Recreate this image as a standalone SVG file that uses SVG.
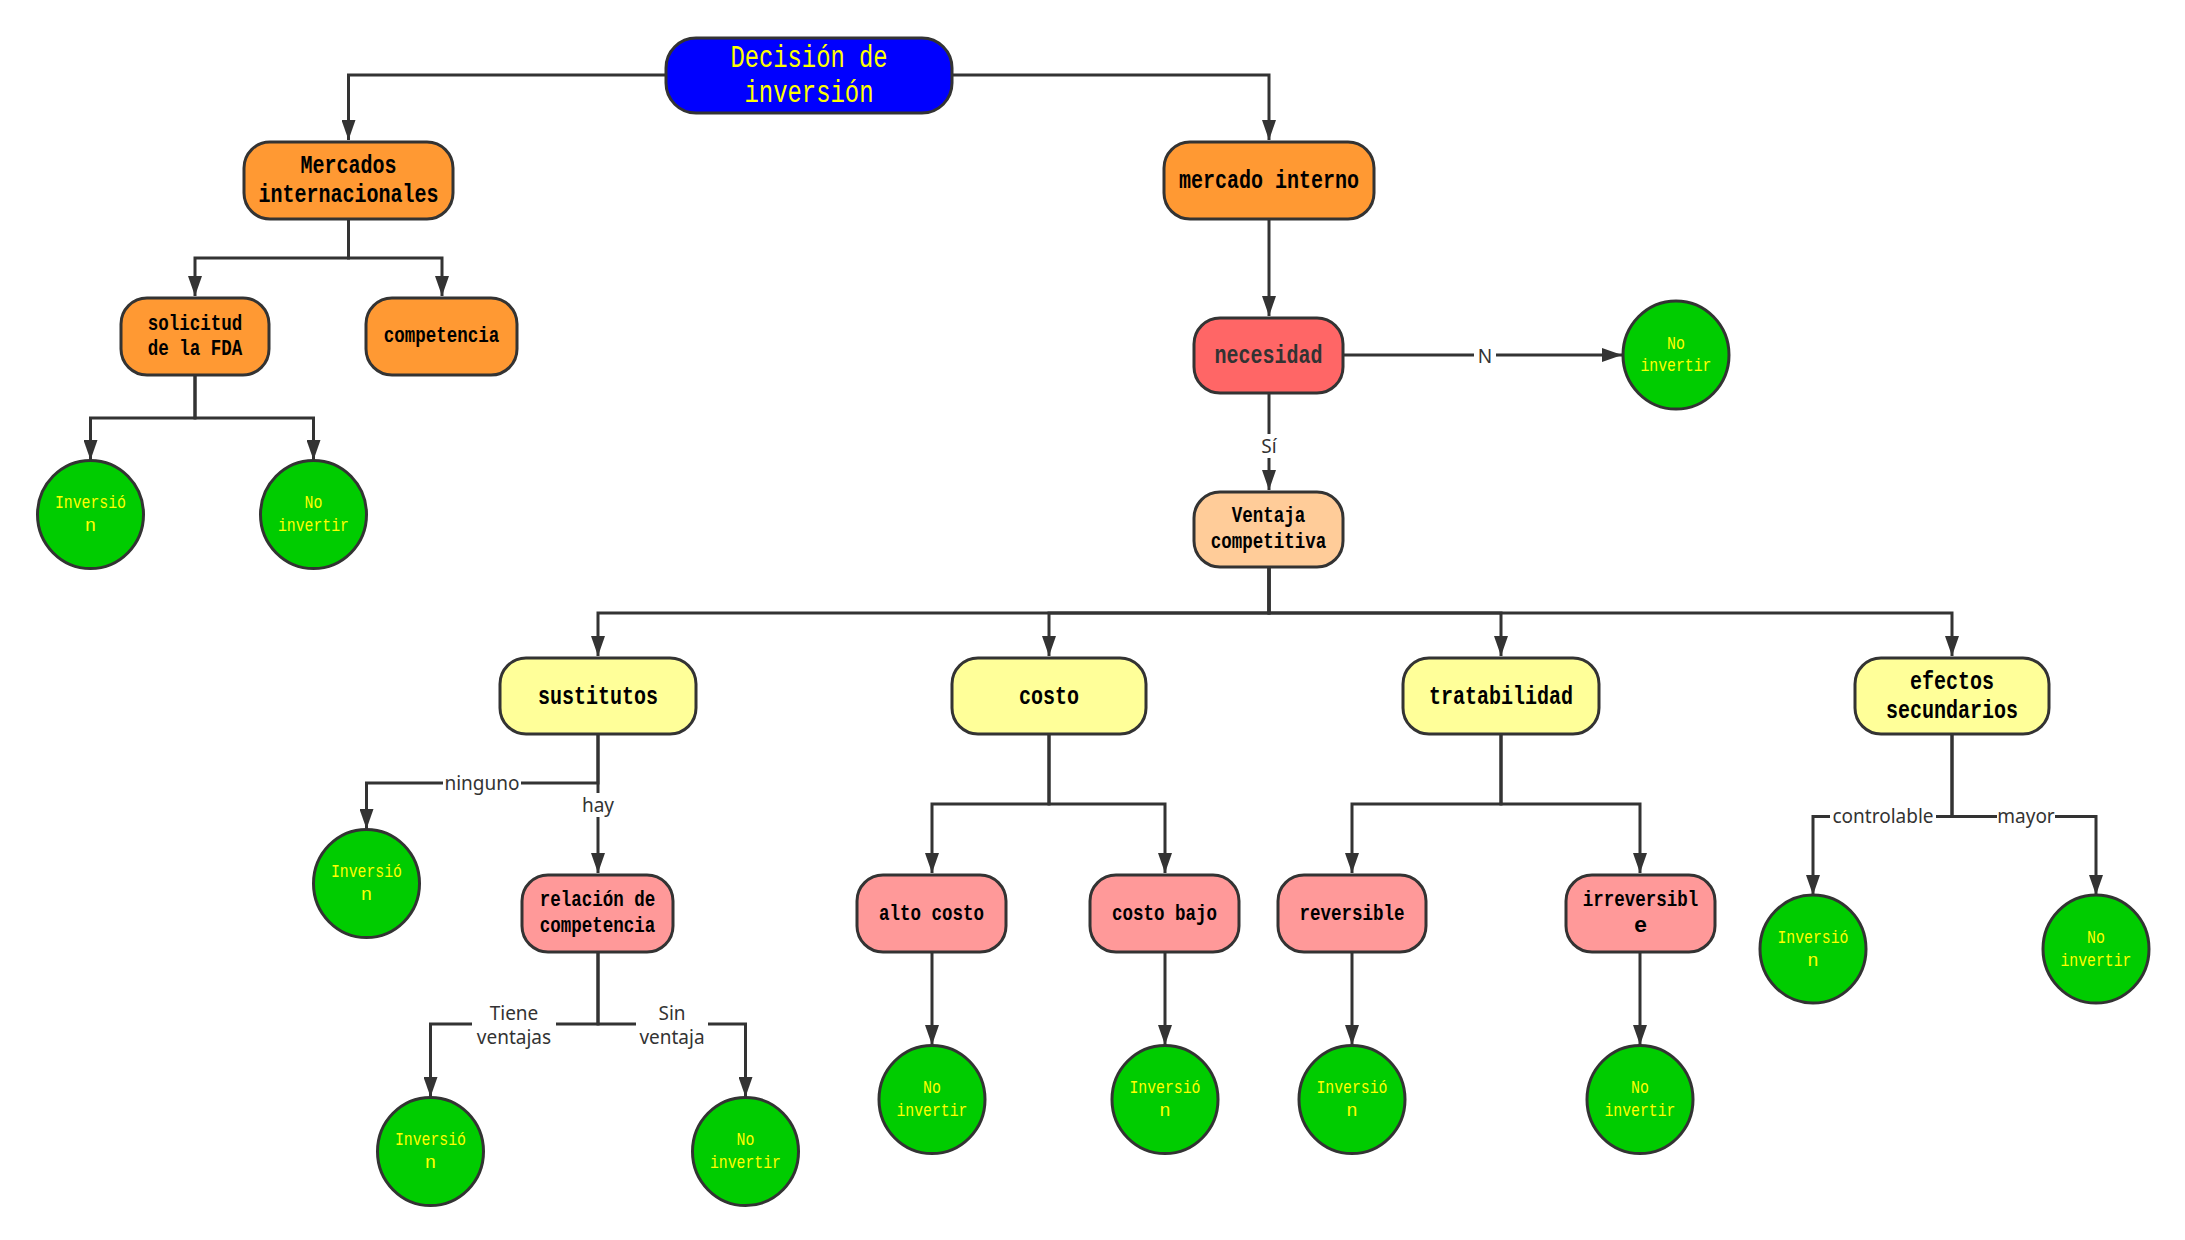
<svg xmlns="http://www.w3.org/2000/svg" width="2185" height="1240" viewBox="0 0 2185 1240">
<style>
.n{stroke:#333;stroke-width:3}
.t{font-family:"Liberation Mono",monospace;text-anchor:middle;dominant-baseline:central}
.root{font-size:31px;fill:#FFFF00}
.a{font-size:26px;font-weight:bold;fill:#000}
.b{font-size:22px;font-weight:bold;fill:#000}
.c{font-size:19px;fill:#FFFF00}
.orange{fill:#FF9933}
.pink{fill:#FF9999}
.yellow{fill:#FFFF99}
.green{fill:#00CC00}
.e{fill:none;stroke:#333;stroke-width:3;marker-end:url(#arr)}
.lbl{font-family:"Noto Sans","Liberation Sans",sans-serif;font-size:19px;fill:#333;text-anchor:middle;dominant-baseline:central}
</style>
<defs>
<marker id="arr" viewBox="0 0 20 14" refX="20" refY="7" markerWidth="20" markerHeight="14" orient="auto" markerUnits="userSpaceOnUse">
<path d="M0,0 L20,7 L0,14 Z" fill="#333"/>
</marker>
</defs>
<rect width="2185" height="1240" fill="#fff"/>
<g id="connectors">
<path class="e" d="M666,75 H348.5 V140"/>
<path class="e" d="M952,75 H1269 V140"/>
<path class="e" d="M348.5,219 V258 H195 V296"/>
<path class="e" d="M348.5,219 V258 H442 V296"/>
<path class="e" d="M195,375 V418 H90.5 V460"/>
<path class="e" d="M195,375 V418 H313.5 V460"/>
<path class="e" d="M1269,219 V316"/>
<path class="e" d="M1343,355 H1622"/>
<path class="e" d="M1269,393 V490"/>
<path class="e" d="M1269,567 V613 H598 V656"/>
<path class="e" d="M1269,567 V613 H1049 V656"/>
<path class="e" d="M1269,567 V613 H1501 V656"/>
<path class="e" d="M1269,567 V613 H1952 V656"/>
<path class="e" d="M598,734 V783 H366.5 V829"/>
<path class="e" d="M598,734 V873"/>
<path class="e" d="M598,952 V1024 H430.5 V1097"/>
<path class="e" d="M598,952 V1024 H745.5 V1097"/>
<path class="e" d="M1049,734 V804 H932 V873"/>
<path class="e" d="M1049,734 V804 H1165 V873"/>
<path class="e" d="M932,952 V1045"/>
<path class="e" d="M1165,952 V1045"/>
<path class="e" d="M1501,734 V804 H1352 V873"/>
<path class="e" d="M1501,734 V804 H1640 V873"/>
<path class="e" d="M1352,952 V1045"/>
<path class="e" d="M1640,952 V1045"/>
<path class="e" d="M1952,734 V816.5 H1813 V895"/>
<path class="e" d="M1952,734 V816.5 H2096 V895"/>
<g id="labels">
<rect x="1474" y="343" width="22" height="24" fill="#fff"/>
<text class="lbl" x="1485" y="356">N</text>
<rect x="1257" y="434" width="24" height="24" fill="#fff"/>
<text class="lbl" x="1269" y="446">Sí</text>
<rect x="443" y="771" width="78" height="24" fill="#fff"/>
<text class="lbl" x="482" y="783">ninguno</text>
<rect x="580" y="793" width="36" height="24" fill="#fff"/>
<text class="lbl" x="598" y="805">hay</text>
<rect x="472" y="1001" width="84" height="48" fill="#fff"/>
<text class="lbl" x="514" y="1013">Tiene</text>
<text class="lbl" x="514" y="1037">ventajas</text>
<rect x="636" y="1001" width="72" height="48" fill="#fff"/>
<text class="lbl" x="672" y="1013">Sin</text>
<text class="lbl" x="672" y="1037">ventaja</text>
<rect x="1830" y="804" width="106" height="24" fill="#fff"/>
<text class="lbl" x="1883" y="816">controlable</text>
<rect x="1997" y="804" width="58" height="24" fill="#fff"/>
<text class="lbl" x="2026" y="816">mayor</text>
</g>
</g>
<g id="root">
<rect class="n" x="666" y="38" width="286" height="75" rx="30" fill="#0000FF"/>
<text class="t root" x="809" y="58" textLength="157" lengthAdjust="spacingAndGlyphs">Decisión de</text>
<text class="t root" x="809" y="93" textLength="129" lengthAdjust="spacingAndGlyphs">inversión</text>
</g>
<g id="mercados">
<rect class="n orange" x="244" y="142" width="209" height="77" rx="26"/>
<text class="t a" x="348.5" y="166" textLength="96" lengthAdjust="spacingAndGlyphs">Mercados</text>
<text class="t a" x="348.5" y="195" textLength="180" lengthAdjust="spacingAndGlyphs">internacionales</text>
</g>
<g id="mercado-interno">
<rect class="n orange" x="1164" y="142" width="210" height="77" rx="26"/>
<text class="t a" x="1269" y="181" textLength="180" lengthAdjust="spacingAndGlyphs">mercado interno</text>
</g>
<g id="solicitud">
<rect class="n orange" x="121" y="298" width="148" height="77" rx="26"/>
<text class="t b" x="195" y="324" textLength="94.5" lengthAdjust="spacingAndGlyphs">solicitud</text>
<text class="t b" x="195" y="349" textLength="94.5" lengthAdjust="spacingAndGlyphs">de la FDA</text>
</g>
<g id="competencia">
<rect class="n orange" x="366" y="298" width="151" height="77" rx="26"/>
<text class="t b" x="441.5" y="336.5" textLength="115.5" lengthAdjust="spacingAndGlyphs">competencia</text>
</g>
<g id="c-fda-inv">
<ellipse class="n green" cx="90.5" cy="514.5" rx="53" ry="54"/>
<text class="t c" x="90.5" y="503" textLength="71" lengthAdjust="spacingAndGlyphs">Inversió</text>
<text class="t c" x="90.5" y="526">n</text>
</g>
<g id="c-fda-no">
<ellipse class="n green" cx="313.5" cy="514.5" rx="53" ry="54"/>
<text class="t c" x="313.5" y="503" textLength="17.8" lengthAdjust="spacingAndGlyphs">No</text>
<text class="t c" x="313.5" y="526" textLength="71" lengthAdjust="spacingAndGlyphs">invertir</text>
</g>
<g id="necesidad">
<rect class="n" x="1194" y="318" width="149" height="75" rx="26" fill="#FF6666"/>
<text class="t a" x="1268.5" y="356" textLength="108" lengthAdjust="spacingAndGlyphs" style="fill:#333">necesidad</text>
</g>
<g id="c-nec-no">
<ellipse class="n green" cx="1676" cy="355" rx="53" ry="54"/>
<text class="t c" x="1676" y="344" textLength="17.8" lengthAdjust="spacingAndGlyphs">No</text>
<text class="t c" x="1676" y="366" textLength="71" lengthAdjust="spacingAndGlyphs">invertir</text>
</g>
<g id="ventaja">
<rect class="n" x="1194" y="492" width="149" height="75" rx="26" fill="#FFCC99"/>
<text class="t b" x="1268.5" y="516" textLength="73.5" lengthAdjust="spacingAndGlyphs">Ventaja</text>
<text class="t b" x="1268.5" y="542" textLength="115.5" lengthAdjust="spacingAndGlyphs">competitiva</text>
</g>
<g id="sustitutos">
<rect class="n yellow" x="500" y="658" width="196" height="76" rx="26"/>
<text class="t a" x="598" y="697" textLength="120" lengthAdjust="spacingAndGlyphs">sustitutos</text>
</g>
<g id="costo">
<rect class="n yellow" x="952" y="658" width="194" height="76" rx="26"/>
<text class="t a" x="1049" y="697" textLength="60" lengthAdjust="spacingAndGlyphs">costo</text>
</g>
<g id="tratabilidad">
<rect class="n yellow" x="1403" y="658" width="196" height="76" rx="26"/>
<text class="t a" x="1501" y="697" textLength="144" lengthAdjust="spacingAndGlyphs">tratabilidad</text>
</g>
<g id="efectos">
<rect class="n yellow" x="1855" y="658" width="194" height="76" rx="26"/>
<text class="t a" x="1952" y="682" textLength="84" lengthAdjust="spacingAndGlyphs">efectos</text>
<text class="t a" x="1952" y="711" textLength="132" lengthAdjust="spacingAndGlyphs">secundarios</text>
</g>
<g id="c-sus-inv">
<ellipse class="n green" cx="366.5" cy="883.5" rx="53" ry="54"/>
<text class="t c" x="366.5" y="872" textLength="71" lengthAdjust="spacingAndGlyphs">Inversió</text>
<text class="t c" x="366.5" y="895">n</text>
</g>
<g id="relacion">
<rect class="n pink" x="522" y="875" width="151" height="77" rx="26"/>
<text class="t b" x="597.5" y="900" textLength="115.5" lengthAdjust="spacingAndGlyphs">relación de</text>
<text class="t b" x="597.5" y="926" textLength="115.5" lengthAdjust="spacingAndGlyphs">competencia</text>
</g>
<g id="c-rel-inv">
<ellipse class="n green" cx="430.5" cy="1151.5" rx="53" ry="54"/>
<text class="t c" x="430.5" y="1140" textLength="71" lengthAdjust="spacingAndGlyphs">Inversió</text>
<text class="t c" x="430.5" y="1163">n</text>
</g>
<g id="c-rel-no">
<ellipse class="n green" cx="745.5" cy="1151.5" rx="53" ry="54"/>
<text class="t c" x="745.5" y="1140" textLength="17.8" lengthAdjust="spacingAndGlyphs">No</text>
<text class="t c" x="745.5" y="1163" textLength="71" lengthAdjust="spacingAndGlyphs">invertir</text>
</g>
<g id="alto-costo">
<rect class="n pink" x="857" y="875" width="149" height="77" rx="26"/>
<text class="t b" x="931.5" y="914" textLength="105" lengthAdjust="spacingAndGlyphs">alto costo</text>
</g>
<g id="costo-bajo">
<rect class="n pink" x="1090" y="875" width="149" height="77" rx="26"/>
<text class="t b" x="1164.5" y="914" textLength="105" lengthAdjust="spacingAndGlyphs">costo bajo</text>
</g>
<g id="c-alto-no">
<ellipse class="n green" cx="932" cy="1099.5" rx="53" ry="54"/>
<text class="t c" x="932" y="1088" textLength="17.8" lengthAdjust="spacingAndGlyphs">No</text>
<text class="t c" x="932" y="1111" textLength="71" lengthAdjust="spacingAndGlyphs">invertir</text>
</g>
<g id="c-bajo-inv">
<ellipse class="n green" cx="1165" cy="1099.5" rx="53" ry="54"/>
<text class="t c" x="1165" y="1088" textLength="71" lengthAdjust="spacingAndGlyphs">Inversió</text>
<text class="t c" x="1165" y="1111">n</text>
</g>
<g id="reversible">
<rect class="n pink" x="1278" y="875" width="148" height="77" rx="26"/>
<text class="t b" x="1352" y="914" textLength="105" lengthAdjust="spacingAndGlyphs">reversible</text>
</g>
<g id="irreversible">
<rect class="n pink" x="1566" y="875" width="149" height="77" rx="26"/>
<text class="t b" x="1640.5" y="900" textLength="115.5" lengthAdjust="spacingAndGlyphs">irreversibl</text>
<text class="t b" x="1640.5" y="926">e</text>
</g>
<g id="c-rev-inv">
<ellipse class="n green" cx="1352" cy="1099.5" rx="53" ry="54"/>
<text class="t c" x="1352" y="1088" textLength="71" lengthAdjust="spacingAndGlyphs">Inversió</text>
<text class="t c" x="1352" y="1111">n</text>
</g>
<g id="c-irr-no">
<ellipse class="n green" cx="1640" cy="1099.5" rx="53" ry="54"/>
<text class="t c" x="1640" y="1088" textLength="17.8" lengthAdjust="spacingAndGlyphs">No</text>
<text class="t c" x="1640" y="1111" textLength="71" lengthAdjust="spacingAndGlyphs">invertir</text>
</g>
<g id="c-efe-inv">
<ellipse class="n green" cx="1813" cy="949" rx="53" ry="54"/>
<text class="t c" x="1813" y="938" textLength="71" lengthAdjust="spacingAndGlyphs">Inversió</text>
<text class="t c" x="1813" y="961">n</text>
</g>
<g id="c-efe-no">
<ellipse class="n green" cx="2096" cy="949" rx="53" ry="54"/>
<text class="t c" x="2096" y="938" textLength="17.8" lengthAdjust="spacingAndGlyphs">No</text>
<text class="t c" x="2096" y="961" textLength="71" lengthAdjust="spacingAndGlyphs">invertir</text>
</g>
</svg>
